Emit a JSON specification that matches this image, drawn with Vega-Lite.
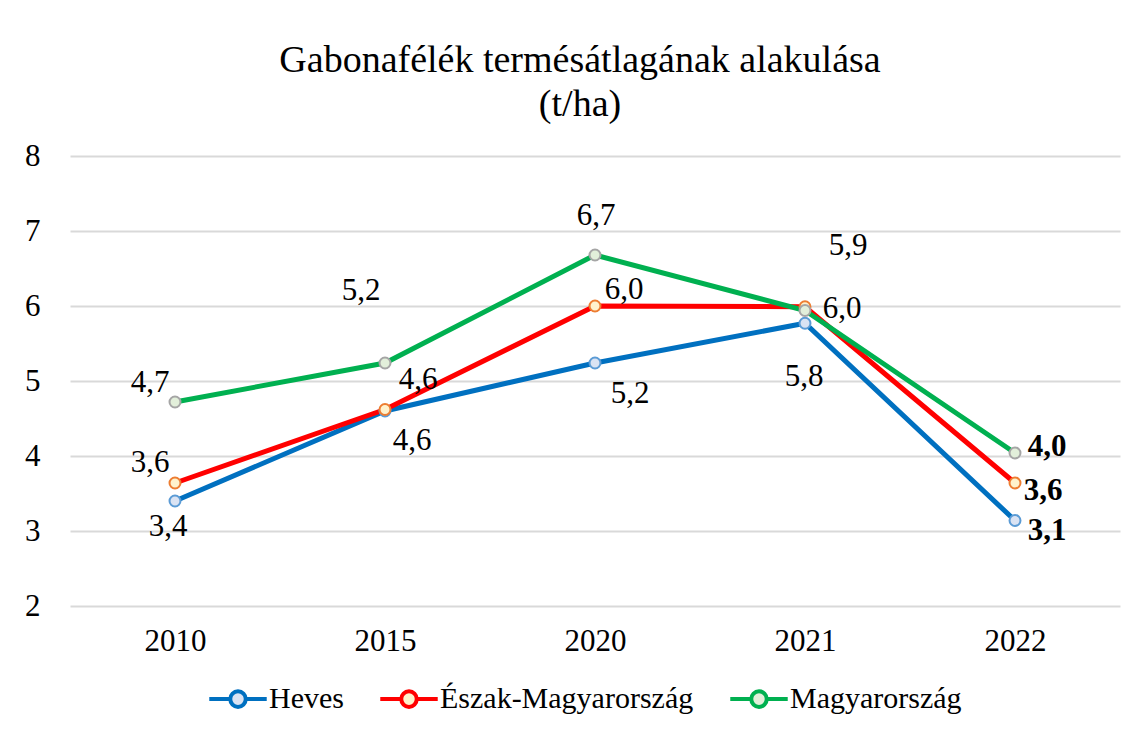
{
  "$schema": "https://vega.github.io/schema/vega-lite/v6.json",
  "width": 1050,
  "height": 450,
  "autosize": {"type": "none"},
  "padding": {"left": 70, "top": 156, "right": 20, "bottom": 127},
  "background": "white",
  "title": {
    "text": ["Gabonafélék termésátlagának alakulása", "(t/ha)"],
    "font": "Liberation Serif",
    "fontSize": 38,
    "fontWeight": "normal",
    "color": "#000000",
    "anchor": "middle",
    "frame": "group",
    "baseline": "bottom",
    "lineHeight": 44,
    "offset": 34,
    "dx": -15,
    "dy": 56
  },
  "data": {
    "values": [
      {"series": "Heves", "year": "2010", "value": 3.40},
      {"series": "Heves", "year": "2015", "value": 4.60},
      {"series": "Heves", "year": "2020", "value": 5.24},
      {"series": "Heves", "year": "2021", "value": 5.77},
      {"series": "Heves", "year": "2022", "value": 3.14},
      {"series": "Észak-Magyarország", "year": "2010", "value": 3.64},
      {"series": "Észak-Magyarország", "year": "2015", "value": 4.62},
      {"series": "Észak-Magyarország", "year": "2020", "value": 6.00},
      {"series": "Észak-Magyarország", "year": "2021", "value": 5.99},
      {"series": "Észak-Magyarország", "year": "2022", "value": 3.64},
      {"series": "Magyarország", "year": "2010", "value": 4.72},
      {"series": "Magyarország", "year": "2015", "value": 5.24},
      {"series": "Magyarország", "year": "2020", "value": 6.68},
      {"series": "Magyarország", "year": "2021", "value": 5.94},
      {"series": "Magyarország", "year": "2022", "value": 4.04}
    ]
  },
  "encoding": {
    "x": {
      "field": "year",
      "type": "ordinal",
      "scale": {"type": "point", "padding": 0.5},
      "axis": {
        "title": null,
        "labelAngle": 0,
        "labelFont": "Liberation Serif",
        "labelFontSize": 31,
        "labelColor": "#000000",
        "labelPadding": 20,
        "domain": false,
        "ticks": false,
        "grid": false
      }
    },
    "y": {
      "field": "value",
      "type": "quantitative",
      "scale": {"domain": [2, 8], "nice": false, "zero": false},
      "axis": {
        "title": null,
        "values": [2, 3, 4, 5, 6, 7, 8],
        "labelFont": "Liberation Serif",
        "labelFontSize": 31,
        "labelColor": "#000000",
        "labelPadding": 30,
        "domain": false,
        "ticks": false,
        "grid": true,
        "gridColor": "#d9d9d9",
        "gridWidth": 2
      }
    }
  },
  "layer": [
    {
      "mark": {"type": "line", "strokeWidth": 5},
      "encoding": {
        "color": {
          "field": "series",
          "type": "nominal",
          "sort": ["Heves", "Észak-Magyarország", "Magyarország"],
          "scale": {
            "domain": ["Heves", "Észak-Magyarország", "Magyarország"],
            "range": ["#0070c0", "#ff0000", "#00b050"]
          },
          "legend": {
            "title": null,
            "orient": "none",
            "legendX": 137,
            "legendY": 512,
            "direction": "horizontal",
            "labelFont": "Liberation Serif",
            "labelFontSize": 30,
            "labelColor": "#000000",
            "labelLimit": 0,
            "labelOffset": 0,
            "columnPadding": 28,
            "symbolType": "M-1,0H-0.27M0.27,0H1M0.27,0A0.27,0.27,0,1,1,-0.27,0A0.27,0.27,0,1,1,0.27,0",
            "symbolSize": 3300,
            "symbolStrokeWidth": 4,
            "encode": {
              "symbols": {"update": {"fill": {"value": "#eeeeee"}, "fillOpacity": {"value": 1}}}
            }
          }
        }
      }
    },
    {
      "mark": {"type": "point", "filled": true, "size": 120, "strokeWidth": 2, "opacity": 1},
      "encoding": {
        "fill": {
          "field": "series",
          "type": "nominal",
          "scale": {
            "domain": ["Heves", "Észak-Magyarország", "Magyarország"],
            "range": ["#dae3f3", "#fff2cc", "#e2efda"]
          },
          "legend": null
        },
        "stroke": {
          "field": "series",
          "type": "nominal",
          "scale": {
            "domain": ["Heves", "Észak-Magyarország", "Magyarország"],
            "range": ["#5b9bd5", "#ed7d31", "#a5a5a5"]
          },
          "legend": null
        }
      }
    },
    {
      "encoding": {
        "text": {"field": "value", "type": "quantitative", "format": ".1f"}
      },
      "layer": [
        {"transform": [{"filter": "datum.series === 'Heves' && datum.year === '2010'"}], "mark": {"type": "text", "font": "Liberation Serif", "fontSize": 31, "color": "#000000", "baseline": "middle", "dx": -7, "dy": 26}},
        {"transform": [{"filter": "datum.series === 'Heves' && datum.year === '2015'"}], "mark": {"type": "text", "font": "Liberation Serif", "fontSize": 31, "color": "#000000", "baseline": "middle", "dx": 27, "dy": 30}},
        {"transform": [{"filter": "datum.series === 'Heves' && datum.year === '2020'"}], "mark": {"type": "text", "font": "Liberation Serif", "fontSize": 31, "color": "#000000", "baseline": "middle", "dx": 35, "dy": 31}},
        {"transform": [{"filter": "datum.series === 'Heves' && datum.year === '2021'"}], "mark": {"type": "text", "font": "Liberation Serif", "fontSize": 31, "color": "#000000", "baseline": "middle", "dx": -1, "dy": 54}},
        {"transform": [{"filter": "datum.series === 'Heves' && datum.year === '2022'"}], "mark": {"type": "text", "font": "Liberation Serif", "fontSize": 31, "fontWeight": "bold", "color": "#000000", "baseline": "middle", "dx": 32, "dy": 10}},
        {"transform": [{"filter": "datum.series === 'Észak-Magyarország' && datum.year === '2010'"}], "mark": {"type": "text", "font": "Liberation Serif", "fontSize": 31, "color": "#000000", "baseline": "middle", "dx": -25, "dy": -20}},
        {"transform": [{"filter": "datum.series === 'Észak-Magyarország' && datum.year === '2015'"}], "mark": {"type": "text", "font": "Liberation Serif", "fontSize": 31, "color": "#000000", "baseline": "middle", "dx": 33, "dy": -30}},
        {"transform": [{"filter": "datum.series === 'Észak-Magyarország' && datum.year === '2020'"}], "mark": {"type": "text", "font": "Liberation Serif", "fontSize": 31, "color": "#000000", "baseline": "middle", "dx": 29, "dy": -16}},
        {"transform": [{"filter": "datum.series === 'Észak-Magyarország' && datum.year === '2021'"}], "mark": {"type": "text", "font": "Liberation Serif", "fontSize": 31, "color": "#000000", "baseline": "middle", "dx": 37, "dy": 2}},
        {"transform": [{"filter": "datum.series === 'Észak-Magyarország' && datum.year === '2022'"}], "mark": {"type": "text", "font": "Liberation Serif", "fontSize": 31, "fontWeight": "bold", "color": "#000000", "baseline": "middle", "dx": 28, "dy": 8}},
        {"transform": [{"filter": "datum.series === 'Magyarország' && datum.year === '2010'"}], "mark": {"type": "text", "font": "Liberation Serif", "fontSize": 31, "color": "#000000", "baseline": "middle", "dx": -25, "dy": -19}},
        {"transform": [{"filter": "datum.series === 'Magyarország' && datum.year === '2015'"}], "mark": {"type": "text", "font": "Liberation Serif", "fontSize": 31, "color": "#000000", "baseline": "middle", "dx": -24, "dy": -72}},
        {"transform": [{"filter": "datum.series === 'Magyarország' && datum.year === '2020'"}], "mark": {"type": "text", "font": "Liberation Serif", "fontSize": 31, "color": "#000000", "baseline": "middle", "dx": 1, "dy": -39}},
        {"transform": [{"filter": "datum.series === 'Magyarország' && datum.year === '2021'"}], "mark": {"type": "text", "font": "Liberation Serif", "fontSize": 31, "color": "#000000", "baseline": "middle", "dx": 43, "dy": -65}},
        {"transform": [{"filter": "datum.series === 'Magyarország' && datum.year === '2022'"}], "mark": {"type": "text", "font": "Liberation Serif", "fontSize": 31, "fontWeight": "bold", "color": "#000000", "baseline": "middle", "dx": 32, "dy": -6}}
      ]
    }
  ],
  "config": {
    "view": {"stroke": null},
    "locale": {
      "number": {"decimal": ",", "thousands": " ", "grouping": [3], "currency": ["", " Ft"]}
    }
  }
}
